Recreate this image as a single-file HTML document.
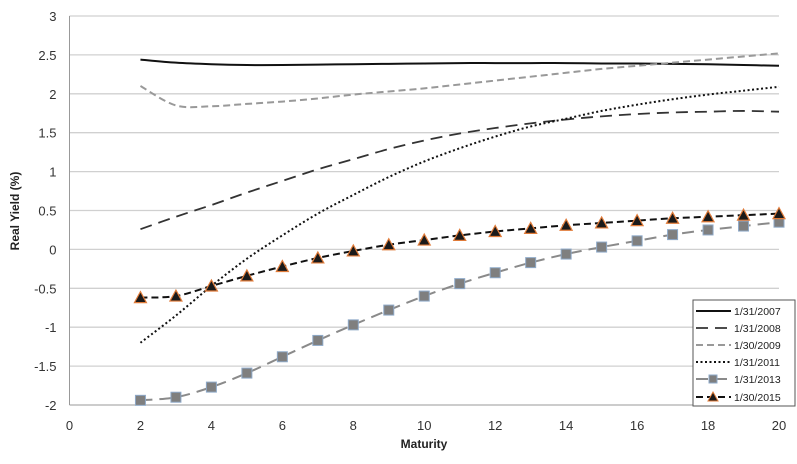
<!DOCTYPE html>
<html><head><meta charset="utf-8"><style>
body{margin:0;background:#fff;}
svg text{font-family:"Liberation Sans",sans-serif;}
</style></head><body>
<svg id="chart" width="797" height="459" xmlns="http://www.w3.org/2000/svg">
<g id="grid"></g><g id="axes"></g><g id="series"></g><g id="legend"></g>
<text transform="translate(19,211) rotate(-90)" text-anchor="middle" font-size="12" font-weight="bold" fill="#222">Real Yield (%)</text>
<text x="424" y="448" text-anchor="middle" font-size="12" font-weight="bold" fill="#222">Maturity</text>
</svg>
<script>
const maturities=[2,3,4,5,6,7,8,9,10,11,12,13,14,15,16,17,18,19,20];
const s2007=[2.44,2.40,2.38,2.37,2.37,2.375,2.38,2.385,2.39,2.395,2.395,2.395,2.395,2.39,2.39,2.385,2.38,2.37,2.36];
const s2008=[0.26,0.42,0.57,0.73,0.88,1.03,1.16,1.29,1.40,1.49,1.56,1.62,1.67,1.71,1.74,1.76,1.77,1.78,1.77];
const s2009=[2.10,1.85,1.84,1.87,1.90,1.94,1.99,2.03,2.07,2.12,2.17,2.22,2.27,2.32,2.36,2.40,2.44,2.48,2.52];
const s2011=[-1.20,-0.85,-0.47,-0.12,0.18,0.46,0.70,0.93,1.13,1.30,1.45,1.58,1.68,1.78,1.86,1.93,1.99,2.04,2.09];
const s2013=[-1.94,-1.90,-1.77,-1.59,-1.38,-1.17,-0.97,-0.78,-0.60,-0.44,-0.30,-0.17,-0.06,0.03,0.11,0.19,0.25,0.30,0.35];
const s2015=[-0.62,-0.60,-0.47,-0.34,-0.22,-0.11,-0.02,0.06,0.12,0.18,0.23,0.27,0.31,0.34,0.37,0.40,0.42,0.44,0.46];
const xTicks=[0,2,4,6,8,10,12,14,16,18,20];
const yTicks=[-2,-1.5,-1,-0.5,0,0.5,1,1.5,2,2.5,3];
const legendLabels=["1/31/2007","1/31/2008","1/30/2009","1/31/2011","1/31/2013","1/30/2015"];

const NS="http://www.w3.org/2000/svg";
const L=69.5,R=779,T=16,B=405;
const xs=v=>L+(v-0)/20*(R-L);
const ys=v=>B-(v+2)/5*(B-T);
function mk(tag,attrs,parent){const e=document.createElementNS(NS,tag);for(const k in attrs)e.setAttribute(k,attrs[k]);parent.appendChild(e);return e;}
const grid=document.getElementById('grid'),axes=document.getElementById('axes'),ser=document.getElementById('series'),leg=document.getElementById('legend');
yTicks.forEach(t=>{
  if(t>-2){const g=mk('line',{x1:L,x2:R,y1:ys(t),y2:ys(t),stroke:'#d0d0d0','stroke-width':1.3},grid);
  
  }
  const tx=mk('text',{x:L-13,y:ys(t)+5,'text-anchor':'end','font-size':13,fill:'#333'},axes);
  tx.textContent=t;
  
  
});
xTicks.forEach(t=>{
  const tx=mk('text',{x:xs(t),y:B+25,'text-anchor':'middle','font-size':13,fill:'#333'},axes);
  tx.textContent=t;
  
  
});
const ya=mk('line',{x1:L,x2:L,y1:T,y2:B,stroke:'#999','stroke-width':1},axes);


const xa=mk('line',{x1:L,x2:R,y1:B,y2:B,stroke:'#999','stroke-width':1},axes);



function smooth(vals){
  const p=maturities.map((m,i)=>[xs(m),ys(vals[i])]);
  let d=`M${p[0][0]},${p[0][1]}`;
  for(let i=0;i<p.length-1;i++){
    const p0=p[i-1]||p[i],p1=p[i],p2=p[i+1],p3=p[i+2]||p2;
    const c1=[p1[0]+(p2[0]-p0[0])/6,p1[1]+(p2[1]-p0[1])/6];
    const c2=[p2[0]-(p3[0]-p1[0])/6,p2[1]-(p3[1]-p1[1])/6];
    d+=` C${c1[0]},${c1[1]} ${c2[0]},${c2[1]} ${p2[0]},${p2[1]}`;
  }
  return d;
}
const styles=[
 {vals:s2007,stroke:'#111',w:2,dash:'',name:'series-2007'},
 {vals:s2008,stroke:'#333',w:1.8,dash:'12,7',name:'series-2008'},
 {vals:s2009,stroke:'#999',w:2,dash:'7,4',name:'series-2009'},
 {vals:s2011,stroke:'#111',w:2,dash:'2,2.5',name:'series-2011'},
 {vals:s2013,stroke:'#8a8a8a',w:2,dash:'12,7',name:'series-2013',marker:'square'},
 {vals:s2015,stroke:'#111',w:2,dash:'7,4',name:'series-2015',marker:'tri'}
];
styles.forEach(s=>{
  const p=mk('path',{d:smooth(s.vals),fill:'none',stroke:s.stroke,'stroke-width':s.w,'stroke-dasharray':s.dash},ser);
  
  
  if(s.marker){
    maturities.forEach((m,i)=>{
      const cx=xs(m),cy=ys(s.vals[i]);let e;
      if(s.marker==='square') e=mk('rect',{x:cx-5,y:cy-5,width:10,height:10,fill:'#7f7f7f',stroke:'#8ea9c8','stroke-width':1},ser);
      else e=mk('polygon',{points:`${cx},${cy-6} ${cx+6},${cy+5} ${cx-6},${cy+5}`,fill:'#1a1a1a',stroke:'#e07b39','stroke-width':1.2},ser);
      
      
    });
  }
});
const lb=mk('rect',{x:693,y:300,width:102,height:106,fill:'#fff',stroke:'#555','stroke-width':1},leg);


const rowsY=[311,328,345,362,379,397];
styles.forEach((s,i)=>{
  const y=rowsY[i];
  const g=mk('g',{},leg);
  
  
  mk('line',{x1:696,x2:731,y1:y,y2:y,stroke:s.stroke,'stroke-width':s.w,'stroke-dasharray':s.dash},g);
  if(s.marker==='square') mk('rect',{x:709,y:y-4,width:8,height:8,fill:'#7f7f7f',stroke:'#8ea9c8'},g);
  if(s.marker==='tri') mk('polygon',{points:`713,${y-5} 718,${y+4} 708,${y+4}`,fill:'#1a1a1a',stroke:'#e07b39'},g);
  const t=mk('text',{x:734,y:y+4,'font-size':10.5,fill:'#222'},g);
  t.textContent=legendLabels[i];
});
</script>
</body></html>
